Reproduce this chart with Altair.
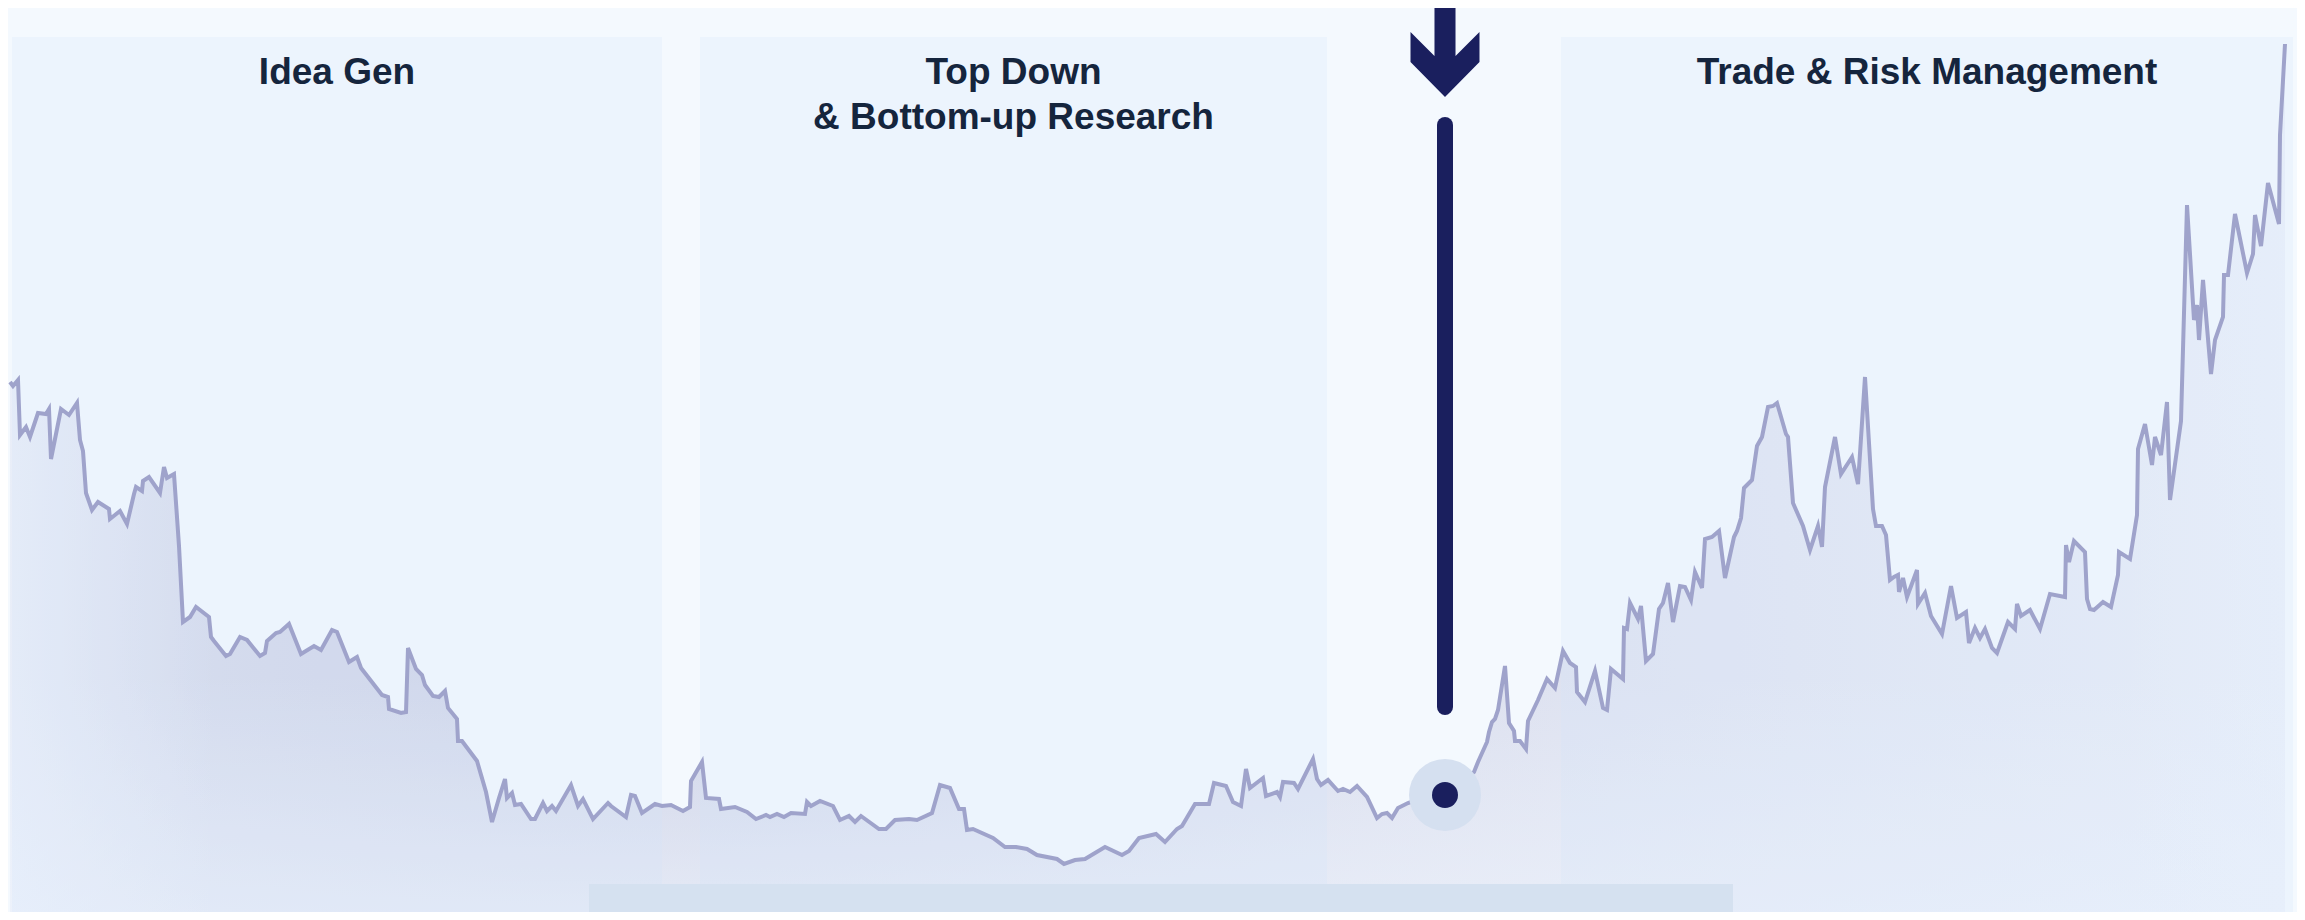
import altair as alt
import pandas as pd

# ---- series (day index, price index) ----
day = [0, 3, 8, 10, 16, 20, 28, 36, 39, 41, 51, 59, 67, 70, 73, 76, 82, 88, 99, 100,
       110, 117, 124, 126, 132, 133, 139, 150, 154, 157, 164, 169, 173, 180, 186, 199, 201, 204, 216, 220,
       230, 237, 250, 255, 257, 266, 270, 279, 287, 291, 304, 311, 322, 327, 339, 347, 351, 372, 378, 379,
       391, 396, 398, 406, 412, 415, 423, 429, 435, 438, 447, 448, 452, 467, 476, 482, 489, 495, 497, 502,
       505, 511, 521, 525, 533, 537, 542, 546, 561, 568, 573, 583, 598, 601, 616, 621, 625, 632, 645, 652,
       661, 673, 680, 681, 692, 696, 709, 711, 725, 737, 746, 756, 760, 767, 774, 781, 795, 797, 801, 810,
       823, 830, 839, 845, 851, 869, 876, 885, 899, 907, 922, 930, 940, 949, 954, 957, 963, 983, 995, 1006,
       1017, 1027, 1047, 1054, 1065, 1075, 1095, 1112, 1119, 1129, 1146, 1155, 1167, 1172, 1185, 1199, 1204, 1216, 1223, 1231,
       1236, 1240, 1253, 1256, 1267, 1270, 1273, 1284, 1288, 1303, 1307, 1311, 1318, 1328, 1333, 1340, 1347, 1357, 1367, 1372,
       1377, 1382, 1388, 1398, 1415, 1435, 1455, 1464, 1468, 1477, 1479, 1482, 1485, 1488, 1495, 1499, 1504, 1505, 1510, 1516,
       1518, 1528, 1537, 1545, 1553, 1560, 1566, 1567, 1575, 1585, 1593, 1597, 1601, 1613, 1614, 1617, 1620, 1628, 1631, 1636,
       1643, 1649, 1653, 1658, 1663, 1670, 1675, 1681, 1685, 1692, 1695, 1702, 1709, 1715, 1724, 1727, 1731, 1734, 1742, 1747,
       1752, 1758, 1763, 1767, 1776, 1778, 1783, 1793, 1800, 1808, 1812, 1815, 1825, 1831, 1842, 1848, 1855, 1863, 1866, 1872,
       1876, 1880, 1884, 1888, 1889, 1893, 1897, 1907, 1908, 1915, 1921, 1932, 1941, 1947, 1956, 1959, 1965, 1970, 1975, 1982,
       1987, 1998, 2005, 2007, 2011, 2020, 2030, 2040, 2055, 2056, 2059, 2064, 2075, 2077, 2080, 2084, 2093, 2101, 2108, 2109,
       2120, 2127, 2128, 2135, 2142, 2145, 2151, 2157, 2160, 2171, 2177, 2184, 2187, 2189, 2193, 2201, 2205, 2213, 2214, 2218,
       2225, 2237, 2243, 2245, 2251, 2258, 2269, 2270, 2275]

price = [538, 534, 540, 485, 493, 483, 507, 506, 511, 461, 511, 505, 517, 480, 469, 427, 410, 418, 411, 401,
         409, 396, 426, 433, 429, 439, 443, 427, 453, 442, 446, 374, 298, 303, 313, 303, 283, 279, 264, 266,
         283, 280, 264, 267, 279, 287, 288, 296, 276, 266, 274, 270, 290, 288, 258, 263, 252, 225, 223, 211,
         207, 208, 272, 251, 245, 235, 224, 223, 229, 212, 201, 179, 179, 159, 128, 98, 122, 141, 122, 127,
         115, 116, 101, 101, 117, 109, 114, 109, 135, 114, 121, 101, 117, 114, 103, 125, 124, 107, 116, 114,
         115, 109, 113, 139, 158, 122, 121, 111, 113, 108, 101, 105, 103, 106, 103, 107, 106, 118, 114, 119,
         114, 100, 104, 98, 104, 91, 91, 100, 101, 100, 107, 135, 132, 111, 111, 90, 91, 82, 73, 73,
         71, 65, 61, 56, 60, 61, 73, 65, 69, 82, 86, 78, 91, 94, 116, 116, 137, 134, 118, 114,
         151, 132, 142, 124, 128, 123, 138, 137, 131, 161, 141, 135, 140, 129, 131, 128, 134, 123, 102, 106,
         107, 102, 112, 117, 123, 132, 142, 148, 158, 178, 188, 198, 201, 210, 254, 197, 189, 179, 179, 171,
         199, 220, 241, 232, 269, 257, 253, 228, 218, 249, 212, 210, 251, 241, 292, 291, 317, 301, 314, 259,
         266, 311, 317, 337, 298, 334, 333, 320, 348, 332, 381, 383, 389, 342, 383, 389, 402, 432, 440, 474,
         483, 513, 514, 517, 486, 483, 417, 394, 370, 394, 373, 433, 483, 446, 463, 436, 543, 411, 394, 394,
         385, 340, 343, 345, 328, 342, 323, 350, 316, 327, 304, 286, 334, 302, 308, 277, 292, 282, 291, 272,
         267, 298, 291, 316, 304, 310, 291, 326, 323, 375, 358, 379, 368, 321, 311, 310, 318, 313, 345, 368,
         361, 405, 471, 496, 455, 483, 465, 518, 420, 499, 715, 600, 615, 580, 640, 546, 580, 603, 645, 645,
         706, 647, 666, 705, 674, 737, 696, 785, 876]

# ---- phases ----
phase_names = ["Idea Gen", "Top Down\n& Bottom-up Research", "Trade & Risk Management"]
phase_start = [2, 690, 1551]
phase_end = [652, 1317, 2283]

# ---- highlighted event ----
event_day = [1435]
event_price = [125]

caption = "The intersection of the global inflection"

W, H = 2289, 904
NAVY = "#1A1F5E"
TEXT = "#15253D"

series = pd.DataFrame({"day": day, "price": price})
phases = pd.DataFrame({"phase": phase_names, "start": phase_start, "end": phase_end})
phases["mid"] = (phases["start"] + phases["end"]) / 2
event = pd.DataFrame({"day": event_day, "price": event_price})
cap = pd.DataFrame({"text": [caption]})

xs = alt.Scale(domain=[-2, 2287], nice=False, zero=False)
ys = alt.Scale(domain=[8, 912], nice=False, zero=False)
X = alt.X("day:Q", scale=xs, axis=None)
Y = alt.Y("price:Q", scale=ys, axis=None)

radial = alt.RadialGradient(
    gradient="radial",
    x1=0.28, y1=0.59, r1=0,
    x2=0.28, y2=0.59, r2=0.72,
    stops=[
        alt.GradientStop(color="#CDD2E6", offset=0),
        alt.GradientStop(color="#D3D7E9", offset=0.2),
        alt.GradientStop(color="#DBDFEE", offset=0.45),
        alt.GradientStop(color="#E2E6F3", offset=0.7),
        alt.GradientStop(color="#E9EEF8", offset=1),
    ],
)
bottom_fade = alt.LinearGradient(
    gradient="linear", x1=0, y1=0, x2=0, y2=1,
    stops=[
        alt.GradientStop(color="rgba(238,243,252,0)", offset=0),
        alt.GradientStop(color="rgba(238,243,252,0)", offset=0.72),
        alt.GradientStop(color="rgba(238,243,252,0.7)", offset=1),
    ],
)
side_fade = alt.LinearGradient(
    gradient="linear", x1=0, y1=0, x2=1, y2=0,
    stops=[
        alt.GradientStop(color="rgba(238,243,252,0.75)", offset=0),
        alt.GradientStop(color="rgba(238,243,252,0)", offset=0.09),
        alt.GradientStop(color="rgba(238,243,252,0)", offset=0.93),
        alt.GradientStop(color="rgba(238,243,252,0.45)", offset=1),
    ],
)

def area_layer(fill):
    return alt.Chart(series).mark_area(fill=fill, line=False).encode(
        x=X, y=Y, y2=alt.value(H)
    )

panels = alt.Chart(phases).mark_rect(fill="#D2E4FA", opacity=0.22).encode(
    x=alt.X("start:Q", scale=xs, axis=None),
    x2="end:Q",
    y=alt.value(29),
    y2=alt.value(H),
)

line = alt.Chart(series).mark_line(color="#9FA3CB", strokeWidth=4).encode(x=X, y=Y)

box = alt.Chart(cap).mark_rect(fill="#D5E1F0").encode(
    x=alt.value(581), x2=alt.value(1725), y=alt.value(876), y2=alt.value(H + 10)
)
cap_text = alt.Chart(cap).mark_text(
    font="Liberation Sans", fontWeight="bold", fontSize=48, color=TEXT,
    align="center", baseline="alphabetic"
).encode(text="text:N", x=alt.value(1153), y=alt.value(945))

rule = alt.Chart(event).mark_rule(color=NAVY, strokeWidth=16, strokeCap="round").encode(
    x=X, y=alt.value(117), y2=alt.value(699)
)

arrow_path = ("M-0.231,-1 L0.231,-1 L0.231,0.099 L0.758,-0.429 L0.758,0.231 "
              "L0,1 L-0.758,0.231 L-0.758,-0.429 L-0.231,0.099 Z")
arrow = alt.Chart(event).mark_point(
    shape=arrow_path, size=8281, filled=True, fill=NAVY, opacity=1, strokeWidth=0
).encode(x=X, y=alt.value(43.5))

halo = alt.Chart(event).mark_circle(size=5184, color="#D5E0F0", opacity=1).encode(x=X, y=Y)
dot = alt.Chart(event).mark_circle(size=676, color=NAVY, opacity=1).encode(x=X, y=Y)

labels = alt.Chart(phases).mark_text(
    font="Liberation Sans", fontWeight="bold", fontSize=37, color=TEXT,
    align="center", baseline="alphabetic", lineBreak="\n", lineHeight=45
).encode(x=alt.X("mid:Q", scale=xs, axis=None), y=alt.value(76), text="phase:N")

chart = alt.layer(
    area_layer(radial), area_layer(bottom_fade), area_layer(side_fade),
    panels, line, box, cap_text, rule, arrow, halo, dot, labels
).properties(
    width=W, height=H, padding=0, autosize=alt.AutoSizeParams(type="none"),
    background="#F4F9FE"
).configure_view(stroke=None)

chart.save("out.html", embed_options={"renderer": "svg", "actions": False})
